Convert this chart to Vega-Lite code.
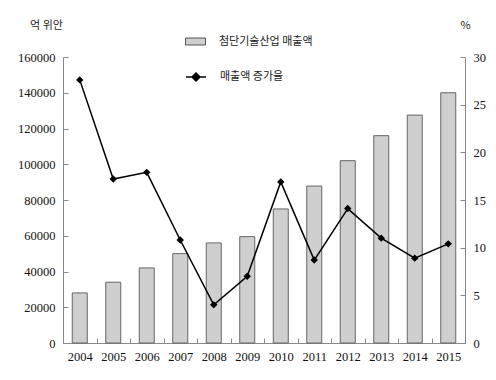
{
  "$schema": "https://vega.github.io/schema/vega-lite/v6.json",
  "width": 402,
  "height": 286,
  "autosize": {"type": "none"},
  "padding": {"left": 63, "top": 57, "right": 31, "bottom": 37},
  "background": "white",
  "config": {
    "view": {"stroke": null},
    "axis": {
      "labelFont": "Liberation Serif",
      "labelFontSize": 12.5,
      "labelColor": "#111",
      "domainColor": "#888",
      "tickColor": "#888",
      "grid": false,
      "tickSize": -5,
      "labelPadding": 13,
      "titleFont": "Noto Sans CJK KR",
      "titleFontSize": 11,
      "titleFontWeight": "normal",
      "titleColor": "#222"
    },
    "legend": {
      "labelFont": "Noto Sans CJK KR",
      "labelFontSize": 11,
      "labelColor": "#222",
      "padding": 0,
      "title": null
    }
  },
  "data": {
    "values": [
      {"year": "2004", "sales": 28000, "rate": 27.6},
      {"year": "2005", "sales": 34000, "rate": 17.2},
      {"year": "2006", "sales": 42000, "rate": 17.9},
      {"year": "2007", "sales": 50000, "rate": 10.8},
      {"year": "2008", "sales": 56000, "rate": 4.0},
      {"year": "2009", "sales": 59500, "rate": 7.0},
      {"year": "2010", "sales": 75000, "rate": 16.9},
      {"year": "2011", "sales": 87800, "rate": 8.7},
      {"year": "2012", "sales": 102000, "rate": 14.1},
      {"year": "2013", "sales": 116000, "rate": 11.0},
      {"year": "2014", "sales": 127500, "rate": 8.9},
      {"year": "2015", "sales": 140000, "rate": 10.4}
    ]
  },
  "encoding": {
    "x": {
      "field": "year",
      "type": "ordinal",
      "scale": {"paddingInner": 0, "paddingOuter": 0},
      "axis": {"title": null, "labelAngle": 0, "tickBand": "extent", "labelPadding": 12}
    }
  },
  "layer": [
    {
      "mark": {"type": "bar", "size": 15, "stroke": "#666", "strokeWidth": 1},
      "encoding": {
        "y": {
          "field": "sales",
          "type": "quantitative",
          "scale": {"domain": [0, 160000], "nice": false},
          "axis": {
            "orient": "left",
            "title": "억 위안",
            "titleAngle": 0,
            "titleAlign": "center",
            "titleBaseline": "middle",
            "titleX": -17,
            "titleY": -32,
            "values": [0, 20000, 40000, 60000, 80000, 100000, 120000, 140000, 160000],
            "format": "d"
          }
        },
        "fill": {
          "datum": "첨단기술산업 매출액",
          "scale": {"range": ["#cfcfcf"]},
          "legend": {
            "orient": "none",
            "legendX": 122,
            "legendY": -26,
            "symbolType": "M-1,-0.35H1V0.35H-1Z",
            "symbolSize": 400,
            "symbolStrokeColor": "#555",
            "symbolStrokeWidth": 1,
            "labelOffset": 13
          }
        }
      }
    },
    {
      "layer": [
        {
          "mark": {"type": "line", "color": "black", "strokeWidth": 1.5},
          "encoding": {
            "y": {
              "field": "rate",
              "type": "quantitative",
              "scale": {"domain": [0, 30], "nice": false},
              "axis": {
                "orient": "right",
                "title": "%",
                "titleAngle": 0,
                "titleAlign": "center",
                "titleBaseline": "middle",
                "titleX": 0,
                "titleY": -32,
                "values": [0, 5, 10, 15, 20, 25, 30]
              }
            },
            "stroke": {
              "datum": "매출액 증가율",
              "scale": {"range": ["black"]},
              "legend": {
                "orient": "none",
                "legendX": 122,
                "legendY": 9,
                "symbolType": "M-1,0H1M0,-0.4L0.4,0L0,0.4L-0.4,0Z",
                "symbolSize": 400,
                "symbolStrokeWidth": 1.5,
                "symbolFillColor": "black",
                "labelOffset": 13,
                "encode": {"symbols": {"update": {"fill": {"value": "black"}, "stroke": {"value": "black"}}}}
              }
            }
          }
        },
        {
          "mark": {"type": "point", "shape": "diamond", "filled": true, "color": "black", "size": 55, "opacity": 1},
          "encoding": {
            "y": {"field": "rate", "type": "quantitative"}
          }
        }
      ]
    }
  ],
  "resolve": {"scale": {"y": "independent"}}
}
